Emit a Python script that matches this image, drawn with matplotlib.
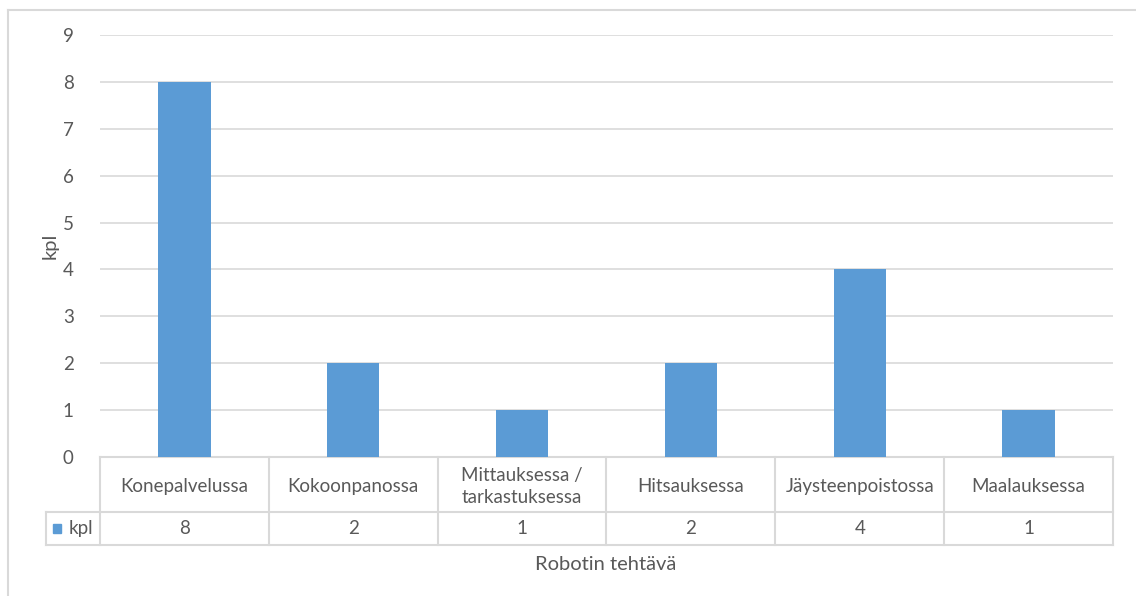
import matplotlib.pyplot as plt
from matplotlib.lines import Line2D
from matplotlib.patches import Rectangle
from matplotlib.transforms import blended_transform_factory

plt.rcParams['font.family'] = ['Lato', 'DejaVu Sans']

categories = ['Konepalvelussa', 'Kokoonpanossa', 'Mittauksessa /\ntarkastuksessa',
              'Hitsauksessa', 'Jäysteenpoistossa', 'Maalauksessa']
kpl = [8, 2, 1, 2, 4, 1]
series_name = 'kpl'

bar_color = '#5b9bd5'
text_color = '#595959'
line_color = '#d9d9d9'
fs = 13.5

W, H = 1136, 596
fig = plt.figure(figsize=(W / 100, H / 100), dpi=100)
ax = fig.add_axes([100 / W, 1 - 457 / H, (1113 - 100) / W, (457 - 35) / H])

x = range(len(categories))
ax.bar(x, kpl, width=0.31, color=bar_color, zorder=3)

ax.set_xlim(-0.5, len(categories) - 0.5)
ax.set_ylim(0, 9)
ax.set_yticks(range(0, 10))
ax.yaxis.grid(True, color=line_color, linewidth=1.2, zorder=0)
ax.set_xticks([])
for s in ax.spines.values():
    s.set_visible(False)
ax.tick_params(axis='y', length=0, pad=19, labelsize=fs, labelcolor=text_color)
ax.set_ylabel('kpl', fontsize=14.5, color=text_color, labelpad=3)

# data table under the bars
tr = blended_transform_factory(ax.transData, ax.transAxes)
px = 1 / (457 - 35)
y_mid = -(512 - 457) * px
y_bot = -(545 - 457) * px
x_leg = -0.5 - (100 - 46) / ((1113 - 100) / len(categories))

def hline(x0, x1, y):
    ax.add_line(Line2D([x0, x1], [y, y], transform=tr, color=line_color,
                       linewidth=1.5, clip_on=False))

def vline(xv, y0, y1):
    ax.add_line(Line2D([xv, xv], [y0, y1], transform=tr, color=line_color,
                       linewidth=1.5, clip_on=False))

n = len(categories)
hline(-0.5, n - 0.5, 0)
hline(x_leg, n - 0.5, y_mid)
hline(x_leg, n - 0.5, y_bot)
vline(x_leg, y_mid, y_bot)
for i in range(n + 1):
    vline(i - 0.5, 0, y_bot)

for i, (cat, v) in enumerate(zip(categories, kpl)):
    ax.text(i, y_mid / 2 - 2 * px, cat, transform=tr, ha='center', va='center',
            fontsize=fs, color=text_color, linespacing=1.3)
    ax.text(i, (y_mid + y_bot) / 2, str(v), transform=tr, ha='center',
            va='center', fontsize=fs, color=text_color)

ax.add_patch(Rectangle((x_leg + 0.04, (y_mid + y_bot) / 2 - 4.5 * px), 0.05, 9 * px,
                       transform=tr, color=bar_color, clip_on=False))
ax.text(x_leg + 0.135, (y_mid + y_bot) / 2, series_name, transform=tr,
        ha='left', va='center', fontsize=fs, color=text_color)

fig.text(606 / W, 1 - 565 / H, 'Robotin tehtävä', ha='center', va='center',
         fontsize=14.5, color=text_color)

# chart area border
fig.add_artist(Line2D([8 / W, 8 / W], [0, 1 - 10 / H], transform=fig.transFigure,
                      color=line_color, linewidth=1.5))
fig.add_artist(Line2D([8 / W, 1], [1 - 10 / H, 1 - 10 / H], transform=fig.transFigure,
                      color=line_color, linewidth=1.5))

fig.savefig('out.png', dpi=100)
